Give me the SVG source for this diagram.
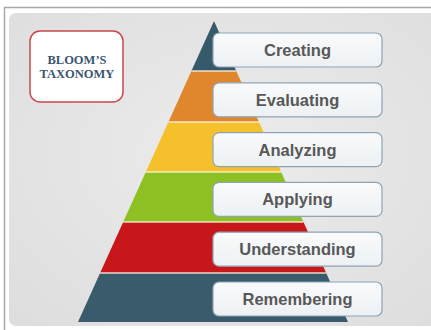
<svg xmlns="http://www.w3.org/2000/svg" width="431" height="330" viewBox="0 0 431 330">
  <defs>
    <radialGradient id="bg" cx="0.5" cy="0.45" r="0.7">
      <stop offset="0" stop-color="#ececec"/>
      <stop offset="1" stop-color="#dedede"/>
    </radialGradient>
    <linearGradient id="boxg" x1="0" y1="0" x2="0" y2="1">
      <stop offset="0" stop-color="#f9fafb"/>
      <stop offset="1" stop-color="#edf1f4"/>
    </linearGradient>
  </defs>
  <style>
    .lbl rect { fill: url(#boxg); stroke: #8ea3b3; stroke-width: 1.2; }
    .lbl text { font-family: "Liberation Sans", Arial, sans-serif; font-weight: bold; font-size: 16.5px; fill: #585858; text-anchor: middle; }
    .sep { stroke: #fbf3e0; stroke-width: 1.3; stroke-opacity: 0.85; }
    .title { font-family: "Liberation Serif", "Times New Roman", serif; font-weight: bold; font-size: 12.5px; fill: #3b5670; text-anchor: middle; }
  </style>
  <rect x="0" y="0" width="431" height="330" fill="#ffffff"/>
  <path d="M4.5 330 V7.5 H431" fill="none" stroke="#a8a8a8" stroke-width="1.5"/>
  <rect x="9" y="13" width="440" height="313" rx="7" fill="url(#bg)"/>

  <g id="pyramid">
    <polygon id="layer-creating" points="214,21 236.3,71 191.4,71" fill="#365a6b"/>
    <polygon id="layer-evaluating" points="191.4,71 236.3,71 259,122 168.4,122" fill="#e0872e"/>
    <polygon id="layer-analyzing" points="168.4,122 259,122 281.2,172 145.8,172" fill="#f4c12c"/>
    <polygon id="layer-applying" points="145.8,172 281.2,172 303.5,222 123.2,222" fill="#8dc123"/>
    <polygon id="layer-understanding" points="123.2,222 303.5,222 326.2,273 100.1,273" fill="#c8171b"/>
    <polygon id="layer-remembering" points="100.1,273 326.2,273 348,322 78,322" fill="#3a5b6b"/>
    <line class="sep" x1="191.4" y1="71" x2="236.3" y2="71"/>
    <line class="sep" x1="168.4" y1="122" x2="259" y2="122"/>
    <line class="sep" x1="145.8" y1="172" x2="281.2" y2="172"/>
    <line class="sep" x1="123.2" y1="222" x2="303.5" y2="222"/>
    <line class="sep" x1="100.1" y1="273" x2="326.2" y2="273"/>
  </g>

  <g id="title-box">
    <rect x="30" y="31" width="93" height="71" rx="10" fill="#ffffff" stroke="#c9474d" stroke-width="1.5"/>
    <text class="title" x="77" y="64">BLOOM’S</text>
    <text class="title" x="77" y="78">TAXONOMY</text>
  </g>

  <g id="creating" class="lbl">
    <rect x="213" y="33" width="169" height="34" rx="6"/>
    <text x="297.5" y="56">Creating</text>
  </g>
  <g id="evaluating" class="lbl">
    <rect x="213" y="82.8" width="169" height="34" rx="6"/>
    <text x="297.5" y="105.8">Evaluating</text>
  </g>
  <g id="analyzing" class="lbl">
    <rect x="213" y="132.6" width="169" height="34" rx="6"/>
    <text x="297.5" y="155.6">Analyzing</text>
  </g>
  <g id="applying" class="lbl">
    <rect x="213" y="182.4" width="169" height="34" rx="6"/>
    <text x="297.5" y="205.4">Applying</text>
  </g>
  <g id="understanding" class="lbl">
    <rect x="213" y="232.2" width="169" height="34" rx="6"/>
    <text x="297.5" y="255.2">Understanding</text>
  </g>
  <g id="remembering" class="lbl">
    <rect x="213" y="282" width="169" height="34" rx="6"/>
    <text x="297.5" y="305">Remembering</text>
  </g>
  <g id="connectors"/>
</svg>
